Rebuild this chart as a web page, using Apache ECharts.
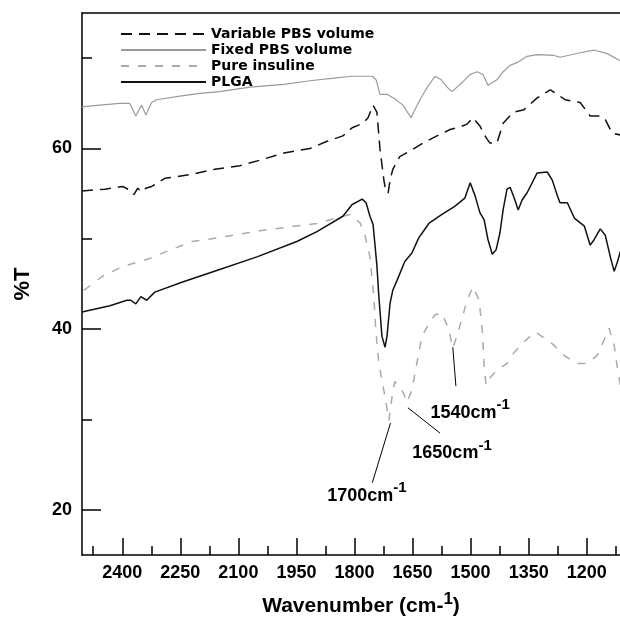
<!DOCTYPE html>
<html><head><meta charset="utf-8">
<script src="https://cdn.jsdelivr.net/npm/echarts@6/dist/echarts.min.js"></script>
<style>html,body{margin:0;padding:0;background:#fff}#c{width:620px;height:622px}</style>
</head><body><div id="c"></div>
<script>
// ---- data ----
const seriesNames = ['Variable PBS volume', 'Fixed PBS volume', 'Pure insuline', 'PLGA'];

const variableX = [2504,2445,2399,2381,2370,2360,2350,2339,2324,2290,2226,2161,2096,2045,1982,1915,1871,1830,1806,1778,1765,1752,1742,1734,1724,1719,1713,1708,1701,1683,1657,1623,1587,1553,1527,1509,1494,1476,1460,1450,1432,1416,1390,1362,1328,1294,1276,1256,1217,1191,1165,1152,1134,1113];
const variableY = [55.3,55.5,55.8,55.4,54.9,55.6,55.2,55.6,55.8,56.7,57.1,57.7,58.1,58.7,59.5,60.0,60.8,61.4,62.3,62.8,63.4,64.8,64.0,59.9,56.5,55.2,55.1,56.5,57.7,59.1,59.7,60.6,61.4,62.1,62.4,62.7,63.4,62.5,61.2,60.6,60.6,62.8,64.0,64.3,65.6,66.5,66.0,65.4,65.1,63.6,63.6,63.2,61.7,61.5];

const fixedX = [2504,2458,2407,2381,2365,2350,2339,2324,2311,2251,2200,2148,2070,1982,1915,1853,1806,1754,1744,1734,1716,1696,1675,1654,1631,1610,1592,1576,1561,1548,1535,1522,1501,1483,1468,1455,1432,1416,1398,1380,1354,1328,1284,1269,1217,1181,1147,1113];
const fixedY = [64.6,64.8,65.0,65.0,63.6,64.8,63.7,65.1,65.4,65.8,66.1,66.3,66.8,67.1,67.5,67.8,68.0,68.0,67.6,66.0,66.0,65.5,64.8,63.4,65.4,66.9,68.0,67.6,66.8,66.3,66.8,67.3,68.2,68.5,68.2,67.0,67.6,68.5,69.2,69.5,70.2,70.4,70.3,70.1,70.6,70.9,70.5,69.7];

const insulinX = [2499,2453,2401,2331,2280,2220,2156,2027,1897,1830,1812,1786,1773,1760,1750,1745,1737,1724,1711,1703,1696,1683,1673,1665,1652,1639,1626,1608,1592,1574,1556,1546,1535,1522,1509,1494,1478,1470,1465,1460,1450,1432,1406,1388,1362,1333,1302,1284,1259,1225,1199,1173,1155,1142,1129,1121,1113];
const insulinY = [44.3,45.8,46.9,47.8,48.7,49.7,50.1,51.0,51.7,52.5,52.7,51.8,50.4,48.0,43.6,39.9,36.2,33.2,29.9,32.5,34.2,33.6,32.9,31.9,33.2,36.2,39.2,40.6,41.6,41.8,39.9,37.9,39.3,41.2,43.2,44.7,43.2,39.9,36.0,33.8,34.6,35.5,36.2,37.4,38.6,39.7,38.8,38.2,37.1,36.2,36.2,37.1,38.8,40.1,38.2,35.8,33.8];

const plgaX = [2504,2432,2388,2378,2365,2352,2337,2316,2246,2156,2052,1949,1897,1830,1806,1780,1770,1760,1752,1747,1742,1737,1729,1721,1716,1708,1701,1690,1670,1652,1634,1621,1608,1574,1541,1515,1501,1488,1476,1465,1455,1444,1434,1424,1416,1406,1398,1388,1377,1367,1354,1328,1302,1289,1276,1269,1250,1232,1206,1191,1181,1165,1152,1139,1129,1121,1113];
const plgaY = [41.9,42.6,43.2,43.2,42.8,43.6,43.2,44.1,45.2,46.5,48.0,49.7,50.8,52.5,53.8,54.4,54.0,52.5,51.6,49.3,47.0,43.6,39.2,38.0,39.2,42.9,44.3,45.4,47.5,48.4,50.1,50.9,51.7,52.7,53.6,54.5,56.2,54.7,52.9,52.1,49.9,48.3,48.8,50.7,53.2,55.5,55.7,54.6,53.2,54.3,55.1,57.3,57.4,56.5,54.8,54.0,54.0,52.3,51.4,49.3,49.9,51.1,50.4,48.0,46.4,47.4,48.6];

const xMajorTicks = [2400,2250,2100,1950,1800,1650,1500,1350,1200];
const xMinorTicks = [2475,2325,2175,2025,1875,1725,1575,1425,1275,1125];
const yMajorTicks = [20,40,60];
const yMinorTicks = [30,50,70];

const noteLabels = ['1700', '1650', '1540'];
const noteLineStart = [[1707,29.6],[1662,31.3],[1546,38.0]];
const noteLineEnd = [[1754,23.0],[1579,28.5],[1538,33.7]];
const noteTextAt = [[1768,21.9],[1548,26.6],[1501,31.1]];

// ---- chart ----
const zip = (xs, ys) => xs.map((x, i) => [x, ys[i]]);
const X_MIN = 1114, X_MAX = 2504, Y_MIN = 15, Y_MAX = 75;
const AXF = 'Liberation Sans, Arial, sans-serif';

const chart = echarts.init(document.getElementById('c'), null, {renderer: 'canvas'});

const richNote = {
  m: {fontFamily: AXF, fontSize: 18, fontWeight: 'bold', color: '#000', lineHeight: 24, verticalAlign: 'bottom'},
  s: {fontFamily: AXF, fontSize: 15, fontWeight: 'bold', color: '#000', lineHeight: 16, verticalAlign: 'top'}
};
const plain = v => String(v);

const option = {
  animation: false,
  backgroundColor: '#fff',
  grid: {left: 82, right: 0, top: 13, bottom: 66, containLabel: false},
  legend: {
    orient: 'vertical', left: 120, top: 27, padding: 0,
    itemWidth: 85, itemHeight: 11, itemGap: 2, itemTextGap: 8,
    itemStyle: {opacity: 0, borderWidth: 0, color: 'rgba(0,0,0,0)'},
    textStyle: {fontFamily: 'DejaVu Sans', fontWeight: 'bold', fontSize: 14, lineHeight: 14, color: '#000'},
    data: seriesNames
  },
  xAxis: [
    {
      type: 'value', min: X_MIN, max: X_MAX, inverse: true, position: 'bottom',
      axisLine: {show: true, lineStyle: {color: '#000', width: 1.5}},
      axisTick: {show: true, inside: true, length: 17, customValues: xMajorTicks, lineStyle: {color: '#000', width: 1.5}},
      axisLabel: {customValues: xMajorTicks, formatter: plain, color: '#000', fontSize: 18, fontWeight: 'bold', fontFamily: AXF, margin: 9},
      splitLine: {show: false},
      name: '{m|Wavenumber (cm-}{s|1}{m|)}',
      nameLocation: 'middle', nameGap: 36,
      nameTextStyle: {
        padding: [0, 0, 0, 20],
        rich: {
          m: {fontFamily: AXF, fontSize: 21, fontWeight: 'bold', color: '#000', lineHeight: 26, verticalAlign: 'bottom'},
          s: {fontFamily: AXF, fontSize: 17, fontWeight: 'bold', color: '#000', lineHeight: 22, verticalAlign: 'top'}
        }
      }
    },
    {
      type: 'value', min: X_MIN, max: X_MAX, inverse: true, position: 'bottom',
      axisLine: {show: false},
      axisTick: {show: true, inside: true, length: 9, customValues: xMinorTicks, lineStyle: {color: '#000', width: 1.5}},
      axisLabel: {show: false}, splitLine: {show: false}
    },
    {
      type: 'value', min: X_MIN, max: X_MAX, inverse: true, position: 'top',
      axisLine: {show: true, lineStyle: {color: '#000', width: 1.5}},
      axisTick: {show: false}, axisLabel: {show: false}, splitLine: {show: false}
    }
  ],
  yAxis: [
    {
      type: 'value', min: Y_MIN, max: Y_MAX, position: 'left',
      axisLine: {show: true, lineStyle: {color: '#000', width: 1.5}},
      axisTick: {show: true, inside: true, length: 19, customValues: yMajorTicks, lineStyle: {color: '#000', width: 1.5}},
      axisLabel: {customValues: yMajorTicks, formatter: plain, color: '#000', fontSize: 18, fontWeight: 'bold', fontFamily: AXF, margin: 10},
      splitLine: {show: false},
      name: '%T', nameLocation: 'middle', nameGap: 48, nameRotate: 90,
      nameTextStyle: {fontFamily: AXF, fontSize: 22, fontWeight: 'bold', color: '#000'}
    },
    {
      type: 'value', min: Y_MIN, max: Y_MAX, position: 'left',
      axisLine: {show: false},
      axisTick: {show: true, inside: true, length: 10, customValues: yMinorTicks, lineStyle: {color: '#000', width: 1.5}},
      axisLabel: {show: false}, splitLine: {show: false}
    }
  ],
  series: [
    {
      name: seriesNames[0], type: 'line', symbol: 'none', xAxisIndex: 0, yAxisIndex: 0,
      data: zip(variableX, variableY),
      lineStyle: {color: '#111', width: 1.5, type: [11, 7]}, itemStyle: {color: '#111'}, z: 3
    },
    {
      name: seriesNames[1], type: 'line', symbol: 'none', xAxisIndex: 0, yAxisIndex: 0,
      data: zip(fixedX, fixedY),
      lineStyle: {color: '#9a9a9a', width: 1.2}, itemStyle: {color: '#9a9a9a'}, z: 2
    },
    {
      name: seriesNames[2], type: 'line', symbol: 'none', xAxisIndex: 0, yAxisIndex: 0,
      data: zip(insulinX, insulinY),
      lineStyle: {color: '#aaaaaa', width: 1.5, type: [8, 9]}, itemStyle: {color: '#aaaaaa'}, z: 2,
      markLine: {
        silent: true, symbol: ['none', 'none'], label: {show: false},
        lineStyle: {color: '#000', width: 1, type: 'solid'},
        data: noteLabels.map((t, i) => [{coord: noteLineStart[i]}, {coord: noteLineEnd[i]}])
      },
      markPoint: {
        silent: true, symbol: 'rect', symbolSize: 1, itemStyle: {color: 'rgba(0,0,0,0)'},
        label: {show: true, position: 'inside', rich: richNote},
        data: noteLabels.map((t, i) => ({
          coord: noteTextAt[i],
          label: {formatter: '{m|' + t + 'cm}{s|-1}'}
        }))
      }
    },
    {
      name: seriesNames[3], type: 'line', symbol: 'none', xAxisIndex: 0, yAxisIndex: 0,
      data: zip(plgaX, plgaY),
      lineStyle: {color: '#111', width: 1.5}, itemStyle: {color: '#111'}, z: 4
    }
  ]
};
chart.setOption(option);
</script>
</body></html>
